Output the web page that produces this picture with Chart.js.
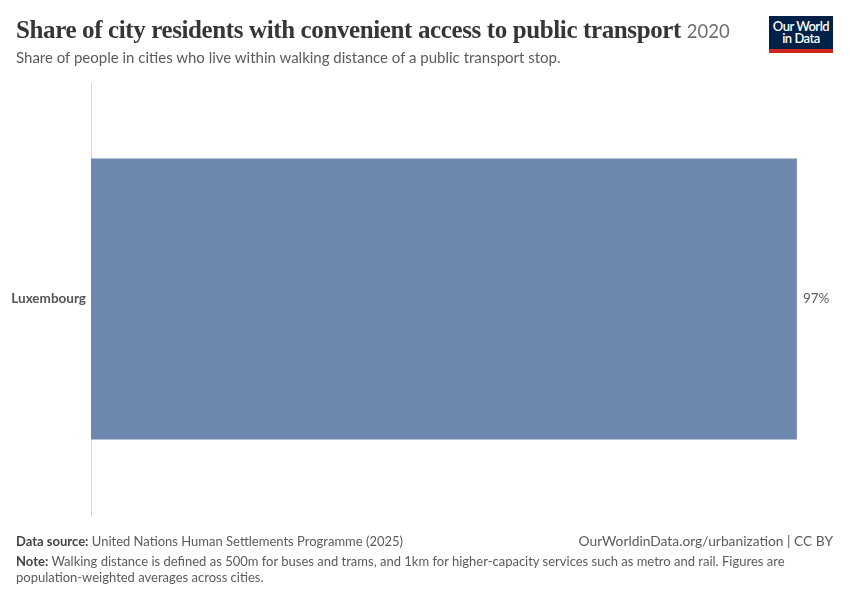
<!DOCTYPE html>
<html>
<head>
<meta charset="utf-8">
<script src="https://cdn.jsdelivr.net/npm/chart.js@4/dist/chart.umd.min.js"></script>
<style>
  html, body { margin:0; padding:0; background:#fff; }
  #wrap { position:relative; width:850px; height:600px; overflow:hidden; font-family: Lato, "Noto Sans", sans-serif; }
  #chartBox { position:absolute; left:0; top:0; width:850px; height:600px; }
  .title { position:absolute; left:16px; top:16px; font-family:"Liberation Serif", "DejaVu Serif", serif; font-size:25px; font-weight:bold; color:#363636; white-space:nowrap; letter-spacing:-0.38px; }
  .title .yr { font-family: Lato, sans-serif; font-weight:normal; font-size:18.5px; color:#6e6e6e; letter-spacing:0; }
  .subtitle { position:absolute; left:16px; top:48px; font-size:15px; color:#5b5b5b; white-space:nowrap; }
  .logo { position:absolute; left:769px; top:16px; width:64px; height:29px; background:#002147; border-bottom:4px solid #ce261e; color:#fff; font-size:13px; font-weight:600; line-height:12px; text-align:center; padding-top:4px; box-sizing:content-box; letter-spacing:-0.5px; }
  .foot { position:absolute; font-size:13px; color:#5b5b5b; white-space:nowrap; }
  .foot b { color:#444; font-weight:bold; }
</style>
</head>
<body>
<div id="wrap">
  <div id="chartBox"><canvas id="c" width="850" height="600"></canvas></div>
  <div class="title">Share of city residents with convenient access to public transport <span class="yr">2020</span></div>
  <div class="subtitle">Share of people in cities who live within walking distance of a public transport stop.</div>
  <div class="logo">Our World<br>in Data</div>
  <div class="foot" style="left:16px; top:533px;"><b>Data source:</b> United Nations Human Settlements Programme (2025)</div>
  <div class="foot" style="right:17px; top:532px; font-size:13.8px;">OurWorldinData.org/urbanization | CC BY</div>
  <div class="foot" style="left:16px; top:553px; line-height:16px;"><b>Note:</b> Walking distance is defined as 500m for buses and trams, and 1km for higher-capacity services such as metro and rail. Figures are<br>population-weighted averages across cities.</div>
</div>
<script>
const categories = ["Luxembourg"];
const shareValues = [97];
const valueSuffix = "%";

const barLabelPlugin = {
  id: 'barLabels',
  afterDatasetsDraw(chart) {
    const ctx = chart.ctx;
    const meta = chart.getDatasetMeta(0);
    ctx.save();
    ctx.font = '13.5px Lato, sans-serif';
    ctx.fillStyle = '#5b5b5b';
    ctx.textAlign = 'left';
    ctx.textBaseline = 'middle';
    meta.data.forEach((bar, i) => {
      ctx.fillText(shareValues[i] + valueSuffix, bar.x + 6, bar.y);
    });
    ctx.restore();
  }
};

new Chart(document.getElementById('c'), {
  type: 'bar',
  data: {
    labels: categories,
    datasets: [{
      data: shareValues,
      backgroundColor: '#6d87ae',
      borderWidth: 0,
      barPercentage: 0.65,
      categoryPercentage: 1.0
    }]
  },
  options: {
    indexAxis: 'y',
    responsive: false,
    animation: false,
    devicePixelRatio: 1,
    layout: { padding: { top: 83, bottom: 85, left: 0, right: 16 } },
    plugins: { legend: { display:false }, tooltip: { enabled:false } },
    scales: {
      x: { display: false, min: 0, max: 102.1 },
      y: {
        afterFit(scale) { scale.width = 91; },
        grid: { display: false, drawTicks: false, tickLength: 0 },
        border: { display: true, color: '#d5d5d5', width: 1 },
        ticks: { font: { family: 'Lato', size: 13.5, weight: 'bold' }, color: '#555', padding: 5 }
      }
    }
  },
  plugins: [barLabelPlugin]
});
</script>
</body>
</html>
